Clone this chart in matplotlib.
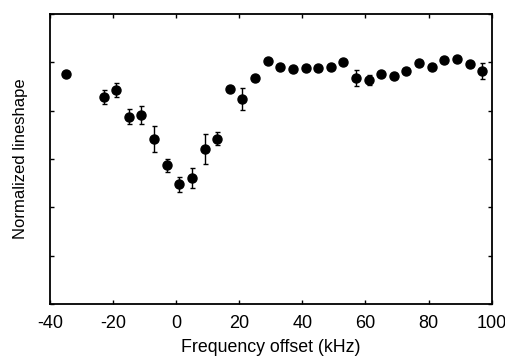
import numpy as np
from matplotlib import pyplot as plt

plt.rcParams['font.family'] = ['Liberation Sans', 'DejaVu Sans']
plt.rcParams['axes.unicode_minus'] = False

# frequency offset (kHz), normalized lineshape and error bars
freq = np.array([-35, -23, -19, -15, -11, -7, -3, 1, 5, 9, 13, 17, 21, 25, 29, 33,
                 37, 41, 45, 49, 53, 57, 61, 65, 69, 73, 77, 81, 85, 89, 93, 97])
lineshape = np.array([0.952, 0.856, 0.885, 0.775, 0.781, 0.681, 0.574, 0.495, 0.521, 0.641,
                      0.684, 0.891, 0.849, 0.934, 1.005, 0.982, 0.971, 0.978, 0.975, 0.982,
                      1.000, 0.934, 0.927, 0.952, 0.945, 0.965, 0.996, 0.982, 1.008, 1.015,
                      0.992, 0.964])
err = np.array([0.010, 0.028, 0.028, 0.032, 0.038, 0.054, 0.026, 0.032, 0.043, 0.062,
                0.026, 0.010, 0.046, 0.010, 0.010, 0.010, 0.010, 0.010, 0.010, 0.010,
                0.010, 0.033, 0.020, 0.010, 0.010, 0.010, 0.010, 0.010, 0.010, 0.010,
                0.010, 0.032])

x_ticks = [-40, -20, 0, 20, 40, 60, 80, 100]
y_ticks = [0, 0.2, 0.4, 0.6, 0.8, 1.0, 1.2]

fig = plt.figure(figsize=(5.06, 3.58), dpi=100)
ax = fig.add_axes([0.0988, 0.1508, 0.8729, 0.8101])

ax.errorbar(freq, lineshape, yerr=err, fmt='o', color='black', markersize=6.5,
            elinewidth=1.0, capsize=1.8, capthick=1.0)

ax.set_xlim(-40, 100)
ax.set_ylim(0, 1.2)
ax.set_xticks(x_ticks)
ax.set_yticks(y_ticks)
ax.set_yticklabels([])
ax.tick_params(direction='in', top=True, right=True, length=3, width=1.0,
               labelsize=13, pad=8)
for s in ax.spines.values():
    s.set_linewidth(1.3)

# the reference crops this label at the bottom edge; keep it just inside
ax.set_xlabel('Frequency offset (kHz)', fontsize=12.8, labelpad=5)
ax.set_ylabel('Normalized lineshape', fontsize=12, labelpad=8)

fig.savefig('out.png', dpi=100)
